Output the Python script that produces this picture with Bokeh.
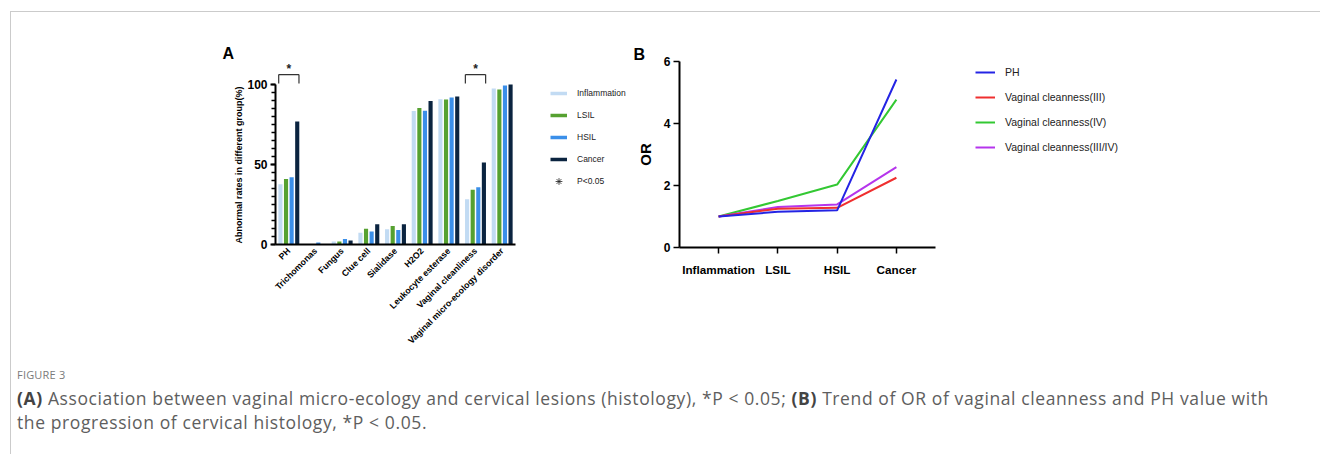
from math import pi
import numpy as np
from bokeh.plotting import figure
from bokeh.models import (FactorRange, Range1d, Legend, LegendItem, ColumnDataSource,
                          Div, Spacer, FixedTicker)
from bokeh.transform import dodge
from bokeh.layouts import row, column
from bokeh.embed import file_html
from bokeh.resources import INLINE
from bokeh.core.properties import value

# ---------------- data (panel A) ----------------
categories = ["PH", "Trichomonas", "Fungus", "Clue cell", "Sialidase", "H2O2",
              "Leukocyte esterase", "Vaginal cleanliness", "Vaginal micro-ecology disorder"]
groups = ["Inflammation", "LSIL", "HSIL", "Cancer"]
inflammation = [37.7, 0.3, 1.9, 7.3, 9.6, 83.4, 90.8, 28.3, 97.5]
lsil = [40.9, 0.0, 1.9, 9.9, 11.5, 85.3, 90.6, 34.2, 96.9]
hsil = [42.1, 1.2, 3.4, 8.2, 9.0, 83.6, 91.8, 35.8, 99.4]
cancer = [76.9, 0.0, 2.5, 12.6, 12.6, 89.7, 92.5, 51.2, 100.0]
significant = ["PH", "Vaginal cleanliness"]
y_ticks_a = [0, 50, 100]

# ---------------- data (panel B) ----------------
stages = ["Inflammation", "LSIL", "HSIL", "Cancer"]
or_ph = [1.0, 1.15, 1.2, 5.42]
or_iii = [1.0, 1.25, 1.28, 2.25]
or_iv = [1.0, 1.5, 2.03, 4.77]
or_iii_iv = [1.0, 1.31, 1.39, 2.59]
series_b = ["PH", "Vaginal cleanness(III)", "Vaginal cleanness(IV)", "Vaginal cleanness(III/IV)"]
y_ticks_b = [0, 2, 4, 6]

FONT = "Liberation Sans"
bar_colors = ["#c2dbf3", "#56a131", "#3b8fe9", "#0b2440"]
line_colors = {"PH": "#2424e4", "Vaginal cleanness(III)": "#ef2f2f",
               "Vaginal cleanness(IV)": "#33c833", "Vaginal cleanness(III/IV)": "#b535ec"}

ROW_H = 334


def panel_title(p, text, offset, standoff):
    p.title.text = text
    p.title.align = "left"
    p.title.offset = offset
    p.title.standoff = standoff
    p.title.vertical_align = "bottom"
    p.title.text_font = FONT
    p.title.text_font_style = "bold"
    p.title.text_font_size = "16px"
    p.title.text_color = "black"


def legend_canvas(width):
    f = figure(width=width, height=ROW_H, x_range=Range1d(0, 1), y_range=Range1d(0, 1),
               x_axis_type=None, y_axis_type=None, min_border=0, frame_align=False,
               output_backend="svg", toolbar_location=None)
    f.grid.visible = False
    f.outline_line_color = None
    return f


def key_source():
    # legend-key placeholder: one undrawable (NaN) point, so only the legend swatch shows
    return ColumnDataSource(dict(x=np.array([np.nan]), y=np.array([np.nan])))


# ================= Panel A =================
pA = figure(x_range=FactorRange(factors=categories, range_padding=0),
            y_range=Range1d(0, 115), width=330, height=ROW_H, frame_align=False,
            min_border_left=85, min_border_right=5, min_border_top=40, min_border_bottom=110,
            output_backend="svg", toolbar_location=None)
pA.grid.visible = False
pA.outline_line_color = None
panel_title(pA, "A", -53, -2)

srcA = ColumnDataSource(dict(cat=categories, Inflammation=inflammation, LSIL=lsil,
                             HSIL=hsil, Cancer=cancer))
offsets = [-0.315, -0.105, 0.105, 0.315]
for g, off, c in zip(groups, offsets, bar_colors):
    pA.vbar(x=dodge("cat", off, range=pA.x_range), top=g, width=0.155, source=srcA,
            fill_color=c, line_color=None)

# significance brackets
sig = ColumnDataSource(dict(cat=significant, star=["*"] * len(significant)))
bl, br_ = -0.38, 0.38
for (a0, b0, a1, b1) in [(bl, 100.6, bl, 106.2), (bl, 106.2, br_, 106.2), (br_, 106.2, br_, 100.6)]:
    pA.segment(x0=dodge("cat", a0, range=pA.x_range), y0=b0,
               x1=dodge("cat", a1, range=pA.x_range), y1=b1, source=sig,
               line_color="#333333", line_width=1.2)
pA.text(x="cat", y=109.5, text="star", source=sig, text_align="center", text_baseline="middle",
        text_font=value(FONT), text_font_size="12px", text_font_style="bold", text_color="#222222")

# axes A
xa = pA.xaxis[0]
xa.axis_line_width = 2
xa.axis_line_color = "black"
xa.major_tick_out = 0
xa.major_tick_in = 0
xa.minor_tick_out = 0
xa.major_label_orientation = pi / 4
xa.major_label_standoff = 5
xa.major_label_text_font = FONT
xa.major_label_text_font_style = "bold"
xa.major_label_text_font_size = "8.8px"
xa.major_label_text_color = "black"

ya = pA.yaxis[0]
ya.ticker = FixedTicker(ticks=y_ticks_a, minor_ticks=list(range(0, 101, 5)))
ya.bounds = (0, 100)
ya.axis_line_width = 2
ya.axis_line_color = "black"
ya.major_tick_out = 5
ya.major_tick_in = 0
ya.major_tick_line_width = 2
ya.minor_tick_out = 4
ya.minor_tick_in = 0
ya.minor_tick_line_width = 1.5
ya.major_label_standoff = 3
ya.major_label_text_font = FONT
ya.major_label_text_font_style = "bold"
ya.major_label_text_font_size = "12px"
ya.major_label_text_color = "black"
# the label is centred on the frame; trailing no-break spaces centre it on the 0-100 axis line
ya.axis_label = "Abnormal rates in different group(%)" + "\u00a0" * 10
ya.axis_label_text_font = FONT
ya.axis_label_text_font_style = "bold"
ya.axis_label_text_font_size = "9px"
ya.axis_label_standoff = 0
ya.axis_label_text_color = "black"

# legend A (own canvas, x 520..632)
lgA = legend_canvas(112)
legend_items_a = []
for g, c in zip(groups, bar_colors):
    r = lgA.line(x="x", y="y", source=key_source(), line_color=c, line_width=3.5)
    legend_items_a.append(LegendItem(label=g, renderers=[r]))
star_r = lgA.scatter(x="x", y="y", source=key_source(), marker="asterisk",
                     size=5, line_color="#222222", line_width=0.8)
legend_items_a.append(LegendItem(label="P<0.05", renderers=[star_r]))
lgA.add_layout(Legend(items=legend_items_a, location=(30, 163), glyph_width=17, glyph_height=20,
                      label_height=20, spacing=2, padding=0, margin=0, label_standoff=10,
                      border_line_color=None, background_fill_alpha=0,
                      label_text_font=FONT, label_text_font_size="8.5px",
                      label_text_color="#222222"))

# ================= Panel B =================
pB = figure(x_range=FactorRange(factors=stages, range_padding=0.16, range_padding_units="absolute"),
            y_range=Range1d(0, 6), width=313, height=ROW_H, frame_align=False,
            min_border_left=47, min_border_right=10, min_border_top=41, min_border_bottom=107,
            output_backend="svg", toolbar_location=None)
pB.grid.visible = False
pB.outline_line_color = None
panel_title(pB, "B", -46, -3)

srcB = ColumnDataSource(dict(stage=stages, PH=or_ph, III=or_iii, IV=or_iv, IIIIV=or_iii_iv))
cols = {"PH": "PH", "Vaginal cleanness(III)": "III", "Vaginal cleanness(IV)": "IV",
        "Vaginal cleanness(III/IV)": "IIIIV"}
for name in ["Vaginal cleanness(IV)", "Vaginal cleanness(III/IV)", "Vaginal cleanness(III)", "PH"]:
    pB.line(x="stage", y=cols[name], source=srcB, line_color=line_colors[name], line_width=2)

xb = pB.xaxis[0]
xb.axis_line_width = 2
xb.axis_line_color = "black"
xb.major_tick_out = 6
xb.major_tick_in = 0
xb.major_tick_line_width = 1.5
xb.major_label_standoff = 9
xb.major_label_text_font = FONT
xb.major_label_text_font_style = "bold"
xb.major_label_text_font_size = "11.7px"
xb.major_label_text_color = "black"

yb = pB.yaxis[0]
yb.ticker = FixedTicker(ticks=y_ticks_b, minor_ticks=[])
yb.axis_line_width = 2
yb.axis_line_color = "black"
yb.major_tick_out = 6
yb.major_tick_in = 0
yb.major_tick_line_width = 1.5
yb.minor_tick_out = 0
yb.major_label_standoff = 3
yb.major_label_text_font = FONT
yb.major_label_text_font_style = "bold"
yb.major_label_text_font_size = "12px"
yb.major_label_text_color = "black"
yb.axis_label = "OR"
yb.axis_label_text_font = FONT
yb.axis_label_text_font_style = "bold"
yb.axis_label_text_font_size = "15px"
yb.axis_label_standoff = 7
yb.axis_label_text_color = "black"

# legend B (own canvas, x 945..1160)
lgB = legend_canvas(215)
items_b = []
for name in series_b:
    r = lgB.line(x="x", y="y", source=key_source(), line_color=line_colors[name], line_width=2)
    items_b.append(LegendItem(label=name, renderers=[r]))
lgB.add_layout(Legend(items=items_b, location=(30, 197), glyph_width=20, glyph_height=20,
                      label_height=20, spacing=5, padding=0, margin=0, label_standoff=10,
                      border_line_color=None, background_fill_alpha=0,
                      label_text_font=FONT, label_text_font_size="10.5px",
                      label_text_color="#222222"))

# ================= page =================
caption_html = (
    "<div style=\"padding-left:6px;font-family:'Open Sans';\">"
    "<div style=\"margin-top:14px;color:#7a7a7a;font-size:11px;line-height:14px;letter-spacing:0.2px;\">FIGURE 3</div>"
    "<div style=\"margin-top:4px;color:#5e5e5e;font-size:17.5px;line-height:24px;letter-spacing:0.6px;white-space:nowrap;\">"
    "<b style=\"color:#444\">(A)</b> Association between vaginal micro-ecology and cervical lesions (histology), *P &lt; 0.05; "
    "<b style=\"color:#444\">(B)</b> Trend of OR of vaginal cleanness and PH value with<br>"
    "the progression of cervical histology, *P &lt; 0.05.</div></div>"
)
INNER_W = 1309
caption = Div(text=caption_html, width=INNER_W, height=100, margin=0)

line_style = {"background-color": "#cbcbcb"}
top_line = row(Spacer(width=10, height=1, margin=0),
               Div(text="", width=INNER_W + 1, height=1, margin=0, styles=line_style))
used = 179 + 330 + 112 + 313 + 215
charts = row(Spacer(width=179, height=ROW_H, margin=0), pA, lgA, pB, lgB,
             Spacer(width=INNER_W - used, height=ROW_H, margin=0))
inner = column(Spacer(width=INNER_W, height=8, margin=0), charts, caption)
left_line = Div(text="", width=1, height=442, margin=0, styles=line_style)
body = row(Spacer(width=10, height=442, margin=0), left_line, inner)
layout = column(Spacer(width=10, height=11, margin=0), top_line, body)

open("out.html", "w").write(file_html(layout, INLINE))
